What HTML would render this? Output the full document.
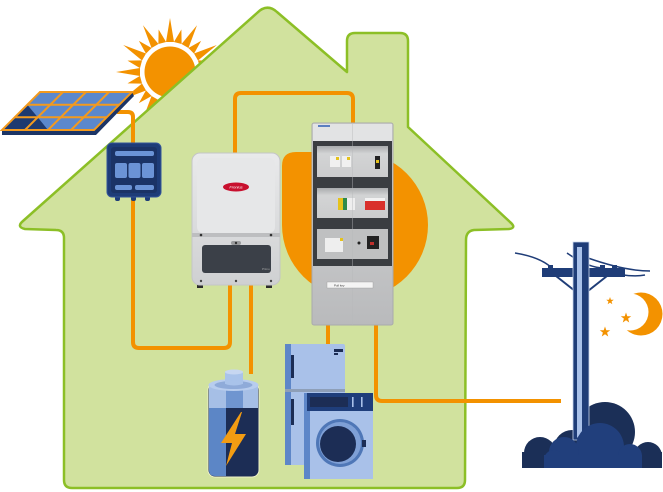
<!DOCTYPE html>
<html><head><meta charset="utf-8"><style>
html,body{margin:0;padding:0;background:#fff;}
svg{display:block;}
</style></head><body>
<svg width="663" height="492" viewBox="0 0 663 492" xmlns="http://www.w3.org/2000/svg">
<defs>
<linearGradient id="inv" x1="0" y1="0" x2="0" y2="1"><stop offset="0" stop-color="#e9eaeb"/><stop offset="1" stop-color="#cfd0d2"/></linearGradient>
<linearGradient id="cab" x1="0" y1="0" x2="0" y2="1"><stop offset="0" stop-color="#d6d7d8"/><stop offset="1" stop-color="#b9babc"/></linearGradient>
<linearGradient id="win" x1="0" y1="0" x2="0" y2="1"><stop offset="0" stop-color="#a9abad"/><stop offset="0.25" stop-color="#d3d4d5"/><stop offset="1" stop-color="#cbcccd"/></linearGradient>
<clipPath id="cl"><rect x="500" y="380" width="163" height="88"/></clipPath>
</defs>
<!-- sun -->
<g fill="#f39200">
<g id="rays">
<polygon points="170,18 174,42 166,42" transform="rotate(0 170 72)"/>
<polygon points="170,28 174,42 166,42" transform="rotate(15 170 72)"/>
<polygon points="170,18 174,42 166,42" transform="rotate(30 170 72)"/>
<polygon points="170,28 174,42 166,42" transform="rotate(45 170 72)"/>
<polygon points="170,18 174,42 166,42" transform="rotate(60 170 72)"/>
<polygon points="170,28 174,42 166,42" transform="rotate(75 170 72)"/>
<polygon points="170,18 174,42 166,42" transform="rotate(90 170 72)"/>
<polygon points="170,28 174,42 166,42" transform="rotate(105 170 72)"/>
<polygon points="170,18 174,42 166,42" transform="rotate(120 170 72)"/>
<polygon points="170,28 174,42 166,42" transform="rotate(135 170 72)"/>
<polygon points="170,18 174,42 166,42" transform="rotate(150 170 72)"/>
<polygon points="170,28 174,42 166,42" transform="rotate(165 170 72)"/>
<polygon points="170,18 174,42 166,42" transform="rotate(180 170 72)"/>
<polygon points="170,28 174,42 166,42" transform="rotate(195 170 72)"/>
<polygon points="170,18 174,42 166,42" transform="rotate(210 170 72)"/>
<polygon points="170,28 174,42 166,42" transform="rotate(225 170 72)"/>
<polygon points="170,18 174,42 166,42" transform="rotate(240 170 72)"/>
<polygon points="170,28 174,42 166,42" transform="rotate(255 170 72)"/>
<polygon points="170,18 174,42 166,42" transform="rotate(270 170 72)"/>
<polygon points="170,28 174,42 166,42" transform="rotate(285 170 72)"/>
<polygon points="170,18 174,42 166,42" transform="rotate(300 170 72)"/>
<polygon points="170,28 174,42 166,42" transform="rotate(315 170 72)"/>
<polygon points="170,18 174,42 166,42" transform="rotate(330 170 72)"/>
<polygon points="170,28 174,42 166,42" transform="rotate(345 170 72)"/>
</g>
<circle cx="170" cy="72" r="29" fill="#fff"/>
<circle cx="170" cy="72" r="25.5"/>
</g>
<!-- house -->
<path d="M257,13 Q267,3 277,12 L347,72 L347,41 Q347,33 355,33 L400,33 Q408,33 408,41 L408,127 L510,222 Q517,228 509,229 L474,230 Q466,231 466,240 L465,480 Q465,488 457,488 L72,488 Q64,488 64,480 L64,238 Q64,230 56,230 L25,229 Q16,227 23,221 Z" fill="#d1e29e" stroke="#8cbf26" stroke-width="2.5" stroke-linejoin="round"/>
<!-- orange blob -->
<path d="M282,166 Q282,152 296,152 L355,152 A73 73 0 1 1 282,225 Z" fill="#f39200"/>
<!-- wires -->
<g fill="none" stroke="#f39200" stroke-width="4" stroke-linejoin="round">
<path d="M117,112 L128,112 Q133,112 133,117 L133,145"/>
<path d="M133,198 L133,342 Q133,348 139,348 L224,348 Q230,348 230,342 L230,284"/>
<path d="M251,284 L251,374"/>
<path d="M235,155 L235,99 Q235,93 241,93 L347,93 Q353,93 353,99 L353,125"/>
<path d="M328,323 L328,346"/>
<path d="M376,323 L376,395 Q376,401 382,401 L561,401"/>
</g>
<!-- solar panel -->
<polygon points="2,130 94,130 132,92 134,96 96,135 2,135" fill="#1c3566"/>
<polygon points="40,92 132,92 94,130 2,130" fill="#5b88cc"/>
<polygon points="14.7,117.3 37.7,117.3 25,130 2,130" fill="#1e3a70"/>
<polygon points="27.3,104.7 37.7,117.3 14.7,117.3" fill="#1e3a70"/>
<polygon points="37.7,117.3 48,130 25,130" fill="#1e3a70"/>
<g stroke="#f39a1e" stroke-width="2" fill="none">
<polygon points="40,92 132,92 94,130 2,130"/>
<line x1="63" y1="92" x2="25" y2="130"/>
<line x1="86" y1="92" x2="48" y2="130"/>
<line x1="109" y1="92" x2="71" y2="130"/>
<line x1="27.3" y1="104.7" x2="119.3" y2="104.7"/>
<line x1="14.7" y1="117.3" x2="106.7" y2="117.3"/>
</g>
<!-- junction box -->
<g>
<rect x="115" y="195" width="5" height="6" rx="2" fill="#1e3c78"/>
<rect x="131" y="195" width="5" height="6" rx="2" fill="#1e3c78"/>
<rect x="145" y="195" width="5" height="6" rx="2" fill="#1e3c78"/>
<rect x="107" y="143" width="54" height="54" rx="5" fill="#1e3c78" stroke="#34559a" stroke-width="1"/>
<rect x="111" y="147" width="46" height="46" rx="3" fill="#1b3366"/>
<rect x="115" y="151" width="39" height="5" rx="2" fill="#6b93d6"/>
<rect x="115" y="163" width="12" height="15" rx="2" fill="#6b93d6"/>
<rect x="128.5" y="163" width="12" height="15" rx="2" fill="#6b93d6"/>
<rect x="142" y="163" width="12" height="15" rx="2" fill="#6b93d6"/>
<rect x="115" y="185" width="17" height="5" rx="2" fill="#6b93d6"/>
<rect x="135" y="185" width="19" height="5" rx="2" fill="#6b93d6"/>
</g>
<!-- inverter -->
<g>
<rect x="197" y="282" width="6" height="6" fill="#2b2b2b"/>
<rect x="266" y="282" width="6" height="6" fill="#2b2b2b"/>
<rect x="192" y="153" width="88" height="132" rx="8" fill="url(#inv)" stroke="#c4c5c7" stroke-width="1"/>
<rect x="197" y="158" width="78" height="75" rx="6" fill="#e6e7e8"/>
<rect x="192" y="233" width="88" height="4" fill="#bdbec0"/>
<circle cx="201" cy="235" r="1.3" fill="#333"/>
<circle cx="271" cy="235" r="1.3" fill="#333"/>
<rect x="202" y="245" width="69" height="28" rx="3" fill="#3b4048"/>
<rect x="231" y="241" width="10" height="4" rx="2" fill="#9a9b9d"/>
<circle cx="236" cy="243" r="1.2" fill="#333"/>
<text x="262" y="270" font-family="Liberation Sans, sans-serif" font-size="3" fill="#aaa">Primo</text>
<ellipse cx="236" cy="187" rx="13" ry="4.5" fill="#c8102e"/>
<text x="236" y="188.5" text-anchor="middle" font-family="Liberation Sans, sans-serif" font-size="4" font-style="italic" fill="#fff">Fronius</text>
<circle cx="201" cy="281" r="1.2" fill="#444"/>
<circle cx="236" cy="281" r="1.2" fill="#444"/>
<circle cx="271" cy="281" r="1.2" fill="#444"/>
</g>
<!-- cabinet -->
<g>
<rect x="312" y="123" width="81" height="202" rx="2" fill="url(#cab)" stroke="#a9aaac" stroke-width="1"/>
<rect x="313" y="124" width="79" height="17" fill="#e2e3e4"/>
<rect x="318" y="125" width="12" height="2" fill="#5b7fc0"/>
<rect x="313" y="141" width="79" height="42" fill="#3a3d41"/>
<rect x="317" y="146" width="71" height="31" fill="url(#win)"/>
<rect x="330" y="156" width="10" height="11" fill="#f0f0f0"/><rect x="336" y="157" width="3" height="3" fill="#e5c21b"/>
<rect x="342" y="156" width="9" height="11" fill="#f0f0f0"/><rect x="347" y="157" width="3" height="3" fill="#e5c21b"/>
<rect x="375" y="156" width="5" height="13" fill="#222"/><rect x="376" y="160" width="3" height="3" fill="#e5c21b"/>
<rect x="313" y="183" width="79" height="41" fill="#3a3d41"/>
<rect x="317" y="188" width="71" height="30" fill="url(#win)"/>
<rect x="338" y="198" width="5" height="12" fill="#e5c21b"/>
<rect x="343" y="198" width="4" height="12" fill="#2e8b4a"/>
<rect x="347" y="198" width="8" height="12" fill="#eee"/>
<rect x="365" y="198" width="20" height="12" fill="#d9302c"/>
<rect x="365" y="198" width="20" height="3" fill="#f2f2f2"/>
<rect x="313" y="224" width="79" height="42" fill="#3a3d41"/>
<rect x="317" y="229" width="71" height="30" fill="#bfc0c1"/>
<rect x="325" y="238" width="18" height="14" fill="#eeeeee"/>
<rect x="340" y="238" width="3" height="3" fill="#e5c21b"/>
<circle cx="359" cy="243" r="1.5" fill="#222"/>
<rect x="367" y="236" width="12" height="13" fill="#222"/>
<rect x="370" y="242" width="4" height="3" fill="#c0302c"/>
<line x1="352.5" y1="124" x2="352.5" y2="325" stroke="#b8b9bb" stroke-width="0.6" opacity="0.7"/>
<rect x="327" y="282" width="46" height="6" fill="#f4f4f4" stroke="#999" stroke-width="0.4"/>
<text x="334" y="286.5" font-family="Liberation Sans, sans-serif" font-size="3" fill="#333">Pull key</text>
</g>
<!-- battery -->
<g>
<rect x="208" y="383" width="51" height="94" rx="7" fill="#1c2d55" stroke="#eef1c8" stroke-width="1"/>
<path d="M209,390 L226,390 L226,476 L215,476 Q209,476 209,470 Z" fill="#5c86c6"/>
<rect x="209" y="385" width="49" height="23" fill="#a6bfe6"/>
<rect x="226" y="385" width="17" height="23" fill="#6f95d0"/>
<ellipse cx="233.5" cy="385" rx="25" ry="6" fill="#b8cdee"/>
<ellipse cx="233.5" cy="385" rx="19" ry="4" fill="#8fabd9"/>
<rect x="225" y="372" width="18" height="12" fill="#a9c3ea"/>
<ellipse cx="234" cy="383" rx="9" ry="2.5" fill="#a9c3ea"/>
<ellipse cx="234" cy="372" rx="9" ry="2.5" fill="#c7d7f1"/>
<polygon points="241,412 221,443 232,443 226,466 246,434 235,434 242,412" fill="#f39c12"/>
</g>
<!-- fridge -->
<g>
<rect x="285" y="344" width="60" height="121" rx="2" fill="#a9c1e9"/>
<rect x="285" y="344" width="6" height="121" fill="#5d86c8"/>
<rect x="285" y="389" width="60" height="3" fill="#8e9fb8"/>
<rect x="291" y="355" width="3" height="23" fill="#1c2d55"/>
<rect x="291" y="399" width="3" height="26" fill="#1c2d55"/>
<rect x="334" y="349" width="9" height="3" fill="#1c2d55"/>
<rect x="334" y="353" width="4" height="2" fill="#1c2d55"/>
</g>
<!-- washer -->
<g>
<rect x="304" y="393" width="69" height="86" fill="#a9c1e9"/>
<rect x="304" y="393" width="6" height="86" fill="#5d86c8"/>
<rect x="307" y="393" width="66" height="18" fill="#1f3e7b"/>
<rect x="310" y="397" width="38" height="10" fill="#1c2d55"/>
<rect x="352" y="397" width="1.6" height="10" fill="#a9c1e9"/>
<rect x="361" y="397" width="1.6" height="10" fill="#a9c1e9"/>
<circle cx="340" cy="443" r="24" fill="#4f77b7"/>
<circle cx="340" cy="443" r="21" fill="#7fa0d6"/>
<circle cx="338" cy="444" r="18" fill="#1c2d55"/>
<rect x="362" y="440" width="4" height="7" fill="#1c2d55"/>
</g>
<!-- back cloud -->
<g fill="#1b2f57" clip-path="url(#cl)">
<circle cx="540" cy="453" r="16"/>
<circle cx="605" cy="432" r="30"/>
<circle cx="648" cy="456" r="14"/>
<circle cx="572" cy="448" r="18"/>
<rect x="522" y="452" width="140" height="16"/>
</g>
<!-- pole -->
<g>
<path d="M515,253 Q540,257 552,268" fill="none" stroke="#1f3d78" stroke-width="1.5"/>
<path d="M567,253 Q588,268 604,268" fill="none" stroke="#1f3d78" stroke-width="1.5"/>
<path d="M588,258 Q625,271 650,271" fill="none" stroke="#1f3d78" stroke-width="1.5"/>
<path d="M605,271 Q630,278 645,275" fill="none" stroke="#1f3d78" stroke-width="1.5"/>
<line x1="556" y1="276" x2="575" y2="291" stroke="#1f3d78" stroke-width="2"/>
<line x1="607" y1="276" x2="588" y2="291" stroke="#1f3d78" stroke-width="2"/>
<rect x="542" y="268" width="83" height="9" fill="#1f3d78"/>
<rect x="548" y="265" width="5" height="4" fill="#1f3d78"/>
<rect x="600" y="265" width="5" height="4" fill="#1f3d78"/>
<rect x="612" y="265" width="5" height="4" fill="#1f3d78"/>
<path d="M573,242 L589,242 L589,440 L573,440 Z" fill="#1f3d78" stroke="#c9d6ee" stroke-width="0.8"/>
<path d="M577,247 L582,247 L582,432 L577,438 Z" fill="#a9c1e9"/>
</g>
<!-- front cloud -->
<g fill="#213f7c" clip-path="url(#cl)">
<circle cx="600" cy="447" r="24"/>
<circle cx="564" cy="452" r="15"/>
<circle cx="554" cy="460" r="10"/>
<circle cx="630" cy="456" r="12"/>
<rect x="544" y="455" width="98" height="13"/>
</g>
<!-- moon & stars -->
<circle cx="641" cy="314" r="21.5" fill="#f39200"/>
<circle cx="630" cy="312" r="18.5" fill="#fff"/>
<g fill="#f39200">
<polygon transform="translate(610,301) scale(4)" points="0,-1 0.235,-0.324 0.951,-0.309 0.38,0.124 0.588,0.809 0,0.4 -0.588,0.809 -0.38,0.124 -0.951,-0.309 -0.235,-0.324"/>
<polygon transform="translate(626,318) scale(5.5)" points="0,-1 0.235,-0.324 0.951,-0.309 0.38,0.124 0.588,0.809 0,0.4 -0.588,0.809 -0.38,0.124 -0.951,-0.309 -0.235,-0.324"/>
<polygon transform="translate(605,332) scale(5.5)" points="0,-1 0.235,-0.324 0.951,-0.309 0.38,0.124 0.588,0.809 0,0.4 -0.588,0.809 -0.38,0.124 -0.951,-0.309 -0.235,-0.324"/>
</g>
</svg>
</body></html>
